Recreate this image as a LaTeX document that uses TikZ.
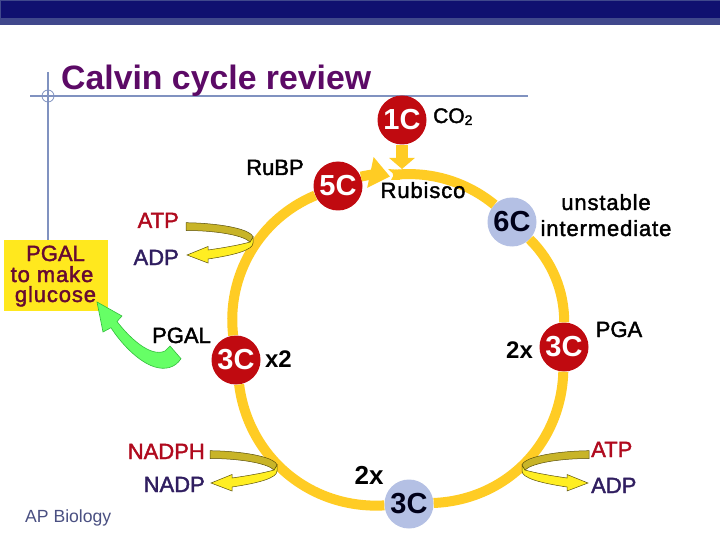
\documentclass[tikz,border=0pt]{standalone}
\usepackage{fontspec}
\setmainfont{Liberation Sans}
\newfontfamily\capsfont[FakeBold=1.8]{Liberation Sans}
\newfontfamily\wordfont[FakeBold=1.8, LetterSpace=4]{Liberation Sans}
\usetikzlibrary{positioning, arrows.meta, calc}
\definecolor{barnavy}{RGB}{16, 16, 112}
\definecolor{barblue}{RGB}{64, 72, 140}
\definecolor{guideblue}{RGB}{128, 146, 192}
\definecolor{titlepurple}{RGB}{92, 10, 102}
\definecolor{carbonred}{RGB}{192, 10, 16}
\definecolor{carbonblue}{RGB}{180, 192, 228}
\definecolor{ringgold}{RGB}{255, 204, 36}
\definecolor{boxyellow}{RGB}{255, 232, 30}
\definecolor{boxtext}{RGB}{102, 10, 50}
\definecolor{spentpurple}{RGB}{48, 30, 96}
\definecolor{chargedred}{RGB}{176, 10, 30}
\definecolor{bandolive}{RGB}{200, 180, 40}
\definecolor{turnyellow}{RGB}{255, 238, 34}
\definecolor{edgeolive}{RGB}{90, 80, 10}
\definecolor{leafgreen}{RGB}{102, 255, 102}
\definecolor{leafedge}{RGB}{50, 190, 60}
\definecolor{footblue}{RGB}{74, 80, 130}
\tikzset{
  turn/.pic={
    \draw[edgeolive, line width=0.5pt, fill=turnyellow] (253,237) -- (253,243) .. controls (253,250) and (235,255) .. (208,259) -- (208,263) -- (187,255) -- (208,246.5) -- (208,250) .. controls (222,248) and (240,245) .. (250,242) -- cycle;
    \draw[edgeolive, line width=0.5pt, fill=bandolive] (186,222.7) .. controls (215,223) and (250,228) .. (253,237) -- (250,242) .. controls (243,235) and (215,230.5) .. (186,230.5) -- cycle;
  }
}

\begin{document}
\begin{tikzpicture}[
      x=1pt, y=-1pt,
      carbon/.style={circle, minimum size=49pt, inner sep=0pt, font=\fontsize{29}{29}\selectfont\bfseries},
      redc/.style={carbon, fill=carbonred, text=white},
      bluec/.style={carbon, fill=carbonblue, text=black!90!blue},
      lbl/.style={anchor=base, inner sep=0pt, font=\fontsize{22}{22}\selectfont\capsfont},
      word/.style={anchor=base, inner sep=0pt, font=\fontsize{22}{22}\selectfont\wordfont},
      ring/.style={line width=10pt, ringgold}
    ]
      \useasboundingbox (0,0) rectangle (720,540);
      \fill[white] (0,0) rectangle (720,540);
      \fill[barblue] (0,0) rectangle (720,25);
      \fill[barnavy] (1,1) rectangle (720,18);

      % title and its guides
      \draw[guideblue, line width=1.2pt] (30,96) -- (528,96);
      \draw[guideblue, line width=1.2pt] (48,72) -- (48,240);
      \draw[guideblue, line width=0.8pt] (48,96) circle (6);
      \node[anchor=base west, inner sep=0pt, text=titlepurple, font=\fontsize{33.8}{34}\selectfont\bfseries] (title) at (61,90) {Calvin cycle review};

      % carbon circles
      \node[redc] (one) at (402,120) {1C};
      \node[redc] (five) at (338,186) {5C};
      \node[bluec] (six) at (512,222) {6C};
      \node[redc] (threeright) at (564,347) {3C};
      \node[bluec] (threebottom) at (409,504) {3C};
      \node[redc] (threeleft) at (236,360) {3C};
      \coordinate (rubtip) at (390,176.5);
      \coordinate (rubstart) at (393,175);
      \coordinate (rubtop) at (402,169);

      % the cycle
      \draw[ring, looseness=0.89] (rubstart) to[bend left=23] (six);
      \draw[ring, looseness=0.89] (six) to[bend left=23] (threeright);
      \draw[ring] (threeright) to[bend left=43] (threebottom);
      \draw[ring] (threebottom) to[bend left=43] (threeleft);
      \draw[ring, looseness=0.95] (threeleft) to[bend left=37] (five);
      \fill[ringgold] (388,169) -- (394,174.5) -- (391,180) -- (400,180) -- (400,170) -- cycle;
      \draw[ring, -{Triangle[length=20pt, width=30pt]}] (five) to[bend left=12] (rubtip);
      \draw[line width=12pt, ringgold, -{Triangle[length=11pt, width=25pt]}] (one) -- (rubtop);

      % turning arrows
      \pic at (0,0) {turn};
      \pic at (24,228) {turn};
      \pic[xscale=-1] at (775,228) {turn};

      % labels
      \node[lbl] (rubp) at (275,175) {RuBP};
      \node[lbl, font=\fontsize{21}{21}\selectfont\capsfont, anchor=base west] (co) at (433,123) {CO\raisebox{-2pt}{\fontsize{14}{14}\selectfont 2}};
      \node[word] (rubisco) at (423,198) {Rubisco};
      \node[word] (unstable) at (606,210) {unstable};
      \node[word] (intermediate) at (606,236) {intermediate};
      \node[lbl] (pga) at (619,337) {PGA};
      \node[lbl, font=\fontsize{24}{24}\selectfont\bfseries] (twoa) at (519.5,358) {2x};
      \node[lbl, font=\fontsize{24}{24}\selectfont\bfseries] (twob) at (278.5,367) {x2};
      \node[lbl, font=\fontsize{26}{26}\selectfont\bfseries] (twoc) at (369,484) {2x};
      \node[lbl] (pgal) at (181.5,343) {PGAL};
      \node[lbl, text=chargedred, anchor=base east] (atpa) at (179,228) {ATP};
      \node[lbl, text=spentpurple, anchor=base east] (adpa) at (179,265) {ADP};
      \node[lbl, text=chargedred, anchor=base east] (nadph) at (205,459) {NADPH};
      \node[lbl, text=spentpurple, anchor=base east] (nadp) at (205,492) {NADP};
      \node[lbl, text=chargedred, anchor=base west] (atpb) at (591,457) {ATP};
      \node[lbl, text=spentpurple, anchor=base west] (adpb) at (591,493) {ADP};
      \node[anchor=base west, inner sep=0pt, text=footblue, font=\fontsize{17.6}{18}\selectfont] (foot) at (25,522) {AP Biology};

      % glucose box and the green arrow
      \node[minimum width=104pt, minimum height=71pt, inner sep=0pt, fill=boxyellow] (box) at (56,275.5) {};
      \node[lbl, text=boxtext] (boxa) at (55.5,261) {PGAL};
      \node[word, text=boxtext] (boxb) at (52,282) {to make};
      \node[word, text=boxtext] (boxc) at (55.5,302) {glucose};
      \draw[leafedge, line width=0.6pt, fill=leafgreen] (97,302) -- (122,316) -- (117,321.5) .. controls (128,336) and (150,358) .. (165,351) -- (170,346) -- (181,358.7) .. controls (175,368) and (165,370) .. (155,367) .. controls (138,362) and (120,342) .. (111,327.7) -- (103,332) -- cycle;
    \end{tikzpicture}
\end{document}
